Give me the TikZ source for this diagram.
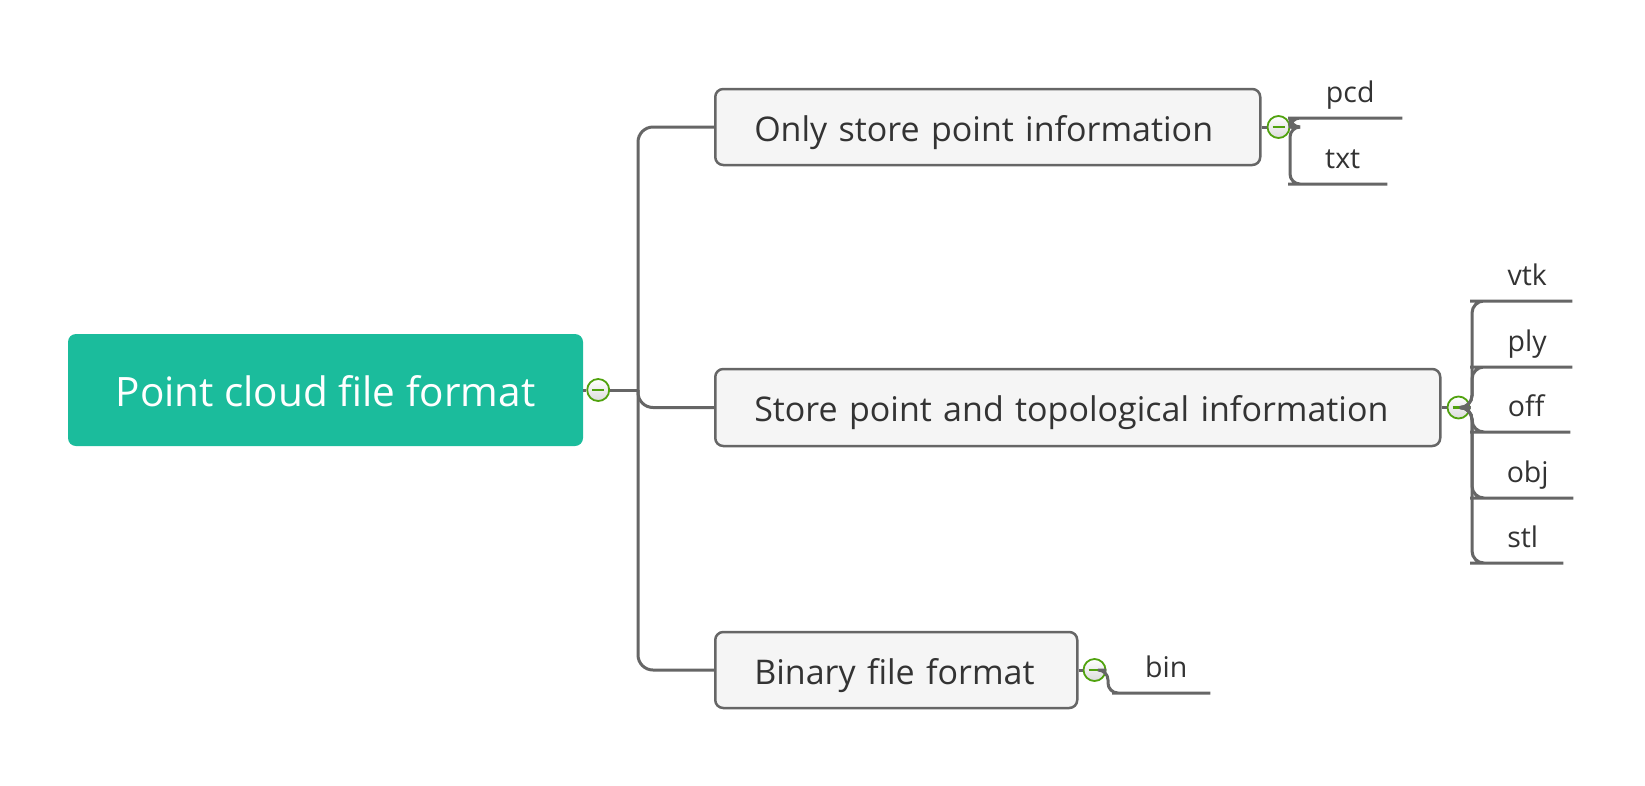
\documentclass[tikz,border=0pt]{standalone}
\usepackage{fontspec}
\setmainfont{Open Sans}
\definecolor{teal1}{RGB}{27,188,156}
\definecolor{linegray}{RGB}{102,102,102}
\definecolor{boxfill}{RGB}{245,245,245}
\definecolor{txtc}{RGB}{51,51,51}
\definecolor{mgreen}{RGB}{80,162,14}
\tikzset{
  rootbox/.style={fill=teal1, rounded corners=8pt, minimum width=515pt, minimum height=112pt,
    text=white, font=\fontsize{40.5}{44}\selectfont, inner sep=0, text height=32pt, text depth=0pt},
  topicbox/.style={draw=linegray, line width=2.5pt, fill=boxfill, rounded corners=8pt,
    anchor=west, inner xsep=39pt, inner ysep=0, align=left, text=txtc,
    text height=28pt, text depth=0pt,
    font=\fontsize{34}{38}\selectfont},
  leaf/.style={inner sep=0, text height=24pt, text depth=15.5pt, text=txtc,
    font=\fontsize{28.5}{32}\selectfont, anchor=south west},
  conn/.style={draw=linegray, line width=3pt},
  mcirc/.style={circle, draw=mgreen, line width=1.8pt, minimum size=22pt, inner sep=0,
    top color=white, bottom color=gray!28,
    path picture={\draw[mgreen, line width=2.2pt] ([xshift=-6pt]path picture bounding box.center) -- ([xshift=6pt]path picture bounding box.center);}},
}
\begin{document}
\begin{tikzpicture}[x=1pt,y=-1pt]
\useasboundingbox (0,0) rectangle (1645,785);
% root
\node[rootbox] (r) at (325.5,390) {Point cloud file format};
\node[mcirc] (c0) at ([xshift=15pt]r.east) {};
\coordinate (t0) at (638,390);
% topics
\node[topicbox, text width=467pt, minimum height=76pt] (b1) at (714,127) {\mbox{Only store point information}};
\node[topicbox, text width=647pt, minimum height=77pt] (b2) at (714,407.5) {\mbox{Store point and topological information}};
\node[topicbox, text width=284pt, minimum height=76pt] (b3) at (714,670) {\mbox{Binary file format}};
% circles
\node[mcirc] (c1) at ([xshift=17pt]b1.east) {};
\node[mcirc] (c2) at ([xshift=17pt]b2.east) {};
\node[mcirc] (c3) at ([xshift=16pt]b3.east) {};
\coordinate (t1) at (1290,127);
\coordinate (t2) at (1472,407.5);
\coordinate (t3) at (1108,670);
% leaves
\node[leaf, minimum width=104pt] (pcd) at (1298,118) {pcd};
\node[leaf, minimum width=89pt] (txt) at (1298,184) {txt};
\node[leaf, minimum width=90pt] (vtk) at (1482,301) {vtk};
\node[leaf, minimum width=90pt] (ply) at (1482,367) {ply};
\node[leaf, minimum width=88pt] (off) at (1482,432) {off};
\node[leaf, minimum width=91pt] (obj) at (1482,498) {obj};
\node[leaf, minimum width=81pt] (stl) at (1482,563) {stl};
\node[leaf, minimum width=88pt] (bin) at (1122,693) {bin};
% connectors root
\draw[conn] (r.east) -- (c0.west);
\draw[conn] (c0.east) -- (t0);
\draw[conn, rounded corners=15pt] (t0) |- (b1.west);
\draw[conn, rounded corners=15pt] (t0) |- (b2.west);
\draw[conn, rounded corners=15pt] (t0) |- (b3.west);
% box1
\draw[conn] (b1.east) -- (c1.west);
\draw[conn, rounded corners=10pt] (c1.east) -- (t1) |- (pcd.south west) -- (pcd.south east);
\draw[conn, rounded corners=10pt] (c1.east) -- (t1) |- (txt.south west) -- (txt.south east);
% box2
\draw[conn] (b2.east) -- (c2.west);
\foreach \l in {vtk,ply,off,obj,stl}{
  \draw[conn, rounded corners=12pt] (c2.east) -- (t2) |- (\l.south west) -- (\l.south east);
}
% box3
\draw[conn] (b3.east) -- (c3.west);
\draw[conn, rounded corners=10pt] (c3.east) -- (t3) |- (bin.south west) -- (bin.south east);
\end{tikzpicture}
\end{document}
